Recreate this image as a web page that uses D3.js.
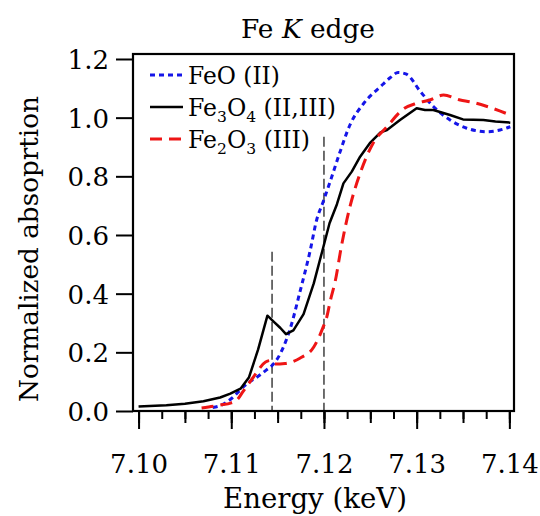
<!DOCTYPE html>
<html>
<head>
<meta charset="utf-8">
<script src="https://cdn.jsdelivr.net/npm/d3@7"></script>
<style>
  body { margin: 0; background: #fff; }
  svg { display: block; }
  text { font-family: "DejaVu Serif", serif; fill: #000; }
</style>
</head>
<body>
<script>

// ---- data (energy in keV, normalized absorption) ----
var feoE   = [7.1080, 7.1088, 7.1095, 7.1103, 7.1110, 7.1120, 7.1128, 7.1138, 7.1144, 7.1153,
              7.1164, 7.1174, 7.1185, 7.1192, 7.1199, 7.1207, 7.1217, 7.1228, 7.1243, 7.1261,
              7.1271, 7.1280, 7.1289, 7.1304, 7.1318, 7.1336, 7.1354, 7.1376, 7.1390, 7.1401];
var feoY   = [0.012, 0.018, 0.030, 0.050, 0.073, 0.100, 0.116, 0.140, 0.155, 0.196,
              0.285, 0.405, 0.545, 0.650, 0.712, 0.785, 0.880, 0.975, 1.049, 1.106,
              1.135, 1.154, 1.148, 1.089, 1.038, 0.992, 0.964, 0.952, 0.958, 0.969];

var fe3o4E = [7.1000, 7.1030, 7.1050, 7.1070, 7.1088, 7.1099, 7.1110, 7.1119, 7.1129, 7.1139,
              7.1146, 7.1153, 7.1159, 7.1167, 7.1178, 7.1189, 7.1199, 7.1206, 7.1214, 7.1221,
              7.1230, 7.1239, 7.1250, 7.1261, 7.1268, 7.1282, 7.1300, 7.1309, 7.1318, 7.1336,
              7.1350, 7.1372, 7.1385, 7.1401];
var fe3o4Y = [0.015, 0.020, 0.025, 0.033, 0.046, 0.059, 0.076, 0.114, 0.210, 0.325,
              0.304, 0.283, 0.262, 0.275, 0.330, 0.435, 0.555, 0.640, 0.705, 0.776,
              0.816, 0.867, 0.915, 0.950, 0.958, 0.992, 1.032, 1.026, 1.026, 1.009,
              0.994, 0.992, 0.987, 0.983];

var fe2o3E = [7.1068, 7.1088, 7.1100, 7.1106, 7.1113, 7.1124, 7.1137, 7.1142, 7.1147, 7.1158,
              7.1174, 7.1189, 7.1199, 7.1203, 7.1207, 7.1212, 7.1219, 7.1228, 7.1239, 7.1253,
              7.1268, 7.1286, 7.1300, 7.1314, 7.1329, 7.1347, 7.1358, 7.1376, 7.1401];
var fe2o3Y = [0.010, 0.020, 0.028, 0.037, 0.068, 0.116, 0.167, 0.172, 0.160, 0.162,
              0.180, 0.218, 0.285, 0.320, 0.378, 0.440, 0.565, 0.696, 0.810, 0.913,
              0.969, 1.030, 1.049, 1.060, 1.077, 1.060, 1.054, 1.038, 1.009];

// vertical dashed guide lines
var guideE   = [7.1144, 7.1200];
var guideTop = [0.543, 0.935];

// ticks
var xMajor = [7.10, 7.11, 7.12, 7.13, 7.14];
var xMajorLabels = ["7.10", "7.11", "7.12", "7.13", "7.14"];
var yMajor = [0.0, 0.2, 0.4, 0.6, 0.8, 1.0, 1.2];
var yMajorLabels = ["0.0", "0.2", "0.4", "0.6", "0.8", "1.0", "1.2"];

var series = [
  {name: "FeO", sub: [], ox: "(II)", e: feoE, y: feoY, color: "#1515e8", dash: "5,4", width: 3, smooth: true},
  {name: "Fe3O4", sub: ["3", "4"], ox: "(II,III)", e: fe3o4E, y: fe3o4Y, color: "#000", dash: null, width: 2.5, smooth: false},
  {name: "Fe2O3", sub: ["2", "3"], ox: "(III)", e: fe2o3E, y: fe2o3Y, color: "#ee1515", dash: "12,7", width: 3, smooth: true}
];

// ---- layout ----
var W = 540, H = 516;
var plotL = 133, plotR = 514, plotT = 54, plotB = 411;

var svg = d3.select("body").append("svg")
  .attr("width", W)
  .attr("height", H);

// only a wide serif is available, so shrink text until it has the reference width
function fitWidth(sel, target) {
  var size = parseFloat(sel.style("font-size"));
  var w = sel.node().getComputedTextLength();
  var s = size * target / w;
  sel.style("font-size", s + "px");
  return s;
}

var x = d3.scaleLinear()
  .domain([7.0994, 7.1405])
  .range([plotL, plotR]);

var y = d3.scaleLinear()
  .domain([0, 1.217])
  .range([plotB, plotT]);

// clip for the curves
svg.append("clipPath").attr("id", "plotclip")
  .append("rect")
  .attr("x", plotL).attr("y", plotT)
  .attr("width", plotR - plotL).attr("height", plotB - plotT);

// x axis: three tick levels
function tickRange(step) {
  var out = [];
  for (var i = 0; i <= Math.round(0.04 / step); i++) out.push(+(7.10 + i * step).toFixed(4));
  return out;
}

svg.append("g")
  .attr("transform", "translate(0," + plotB + ")")
  .call(d3.axisBottom(x).tickValues(tickRange(0.0025)).tickSize(8).tickFormat(""))
  .call(function(g){ g.select(".domain").remove(); });

svg.append("g")
  .attr("transform", "translate(0," + plotB + ")")
  .call(d3.axisBottom(x).tickValues(tickRange(0.005)).tickSize(12).tickFormat(""))
  .call(function(g){ g.select(".domain").remove(); });

var xAxis = svg.append("g")
  .attr("transform", "translate(0," + plotB + ")")
  .call(d3.axisBottom(x)
    .tickValues(xMajor)
    .tickSize(18)
    .tickFormat(function(d, i){ return xMajorLabels[i]; }));
xAxis.select(".domain").remove();

var yAxis = svg.append("g")
  .attr("transform", "translate(" + plotL + ",0)")
  .call(d3.axisLeft(y)
    .tickValues(yMajor)
    .tickSize(17)
    .tickPadding(7)
    .tickFormat(function(d, i){ return yMajorLabels[i]; }));
yAxis.select(".domain").remove();

svg.selectAll("g").attr("font-family", null).attr("font-size", null);

svg.selectAll(".tick line")
  .attr("stroke", "#000")
  .attr("stroke-width", 2);

// tick label size from the width of "7.10"
var firstLabel = xAxis.select(".tick text").style("font-size", "30px");
var tickSize = fitWidth(firstLabel, 58);
svg.selectAll(".tick text").style("font-size", tickSize + "px");

xAxis.selectAll(".tick text")
  .attr("dy", null)
  .attr("y", 62);

yAxis.selectAll(".tick text")
  .attr("dy", "0.36em");

// guide lines
svg.append("g").selectAll("line")
  .data(guideE)
  .enter().append("line")
  .attr("x1", function(d){ return x(d); })
  .attr("x2", function(d){ return x(d); })
  .attr("y1", function(d, i){ return y(guideTop[i]); })
  .attr("y2", y(0))
  .attr("stroke", "#222")
  .attr("stroke-width", 1.3)
  .attr("stroke-dasharray", "10,4");

// curves
var plots = svg.append("g")
  .attr("clip-path", "url(#plotclip)");

series.forEach(function(s) {
  var pts = s.e.map(function(e, i){ return [e, s.y[i]]; });
  var line = d3.line()
    .x(function(d){ return x(d[0]); })
    .y(function(d){ return y(d[1]); })
    .curve(s.smooth ? d3.curveMonotoneX : d3.curveLinear);
  plots.append("path")
    .datum(pts)
    .attr("d", line)
    .attr("fill", "none")
    .attr("stroke", s.color)
    .attr("stroke-width", s.width)
    .attr("stroke-linejoin", "round")
    .attr("stroke-dasharray", s.dash);
});

// frame
svg.append("rect")
  .attr("x", plotL).attr("y", plotT)
  .attr("width", plotR - plotL).attr("height", plotB - plotT)
  .attr("fill", "none")
  .attr("stroke", "#000")
  .attr("stroke-width", 2.2);

// legend
var legendWidths = [92, 148, 122];
var legend = svg.append("g");
series.forEach(function(s, i) {
  var cy = 75 + i * 32;
  legend.append("line")
    .attr("x1", 150).attr("x2", 183)
    .attr("y1", cy).attr("y2", cy)
    .attr("stroke", s.color)
    .attr("stroke-width", s.width)
    .attr("stroke-dasharray", s.dash);

  var t = legend.append("text")
    .attr("x", 188)
    .attr("y", cy + 9)
    .style("font-size", "24px");
  if (s.sub.length) {
    t.append("tspan").text("Fe");
    t.append("tspan").style("font-size", "0.66em").attr("dy", 6).text(s.sub[0]);
    t.append("tspan").attr("dy", -6).text("O");
    t.append("tspan").style("font-size", "0.66em").attr("dy", 6).text(s.sub[1]);
    t.append("tspan").attr("dy", -6).text(" " + s.ox);
  } else {
    t.text(s.name + " " + s.ox);
  }
  fitWidth(t, legendWidths[i]);
});

// titles
var title = svg.append("text")
  .attr("x", 308)
  .attr("y", 38)
  .attr("text-anchor", "middle")
  .style("font-size", "28px");
title.append("tspan").text("Fe ");
title.append("tspan").attr("font-style", "italic").text("K");
title.append("tspan").text(" edge");
fitWidth(title, 134);

var xLabel = svg.append("text")
  .attr("x", 315)
  .attr("y", 508)
  .attr("text-anchor", "middle")
  .style("font-size", "28px")
  .text("Energy (keV)");
fitWidth(xLabel, 184);

var yLabel = svg.append("text")
  .attr("transform", "translate(38,249) rotate(-90)")
  .attr("text-anchor", "middle")
  .style("font-size", "28px")
  .text("Normalized absoprtion");
fitWidth(yLabel, 306);

</script>
</body>
</html>
